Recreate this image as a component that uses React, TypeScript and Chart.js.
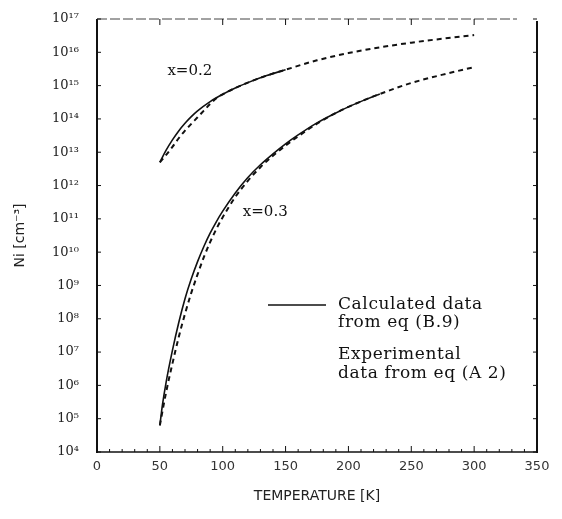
import React, { useEffect, useRef } from "react";
import { Chart, registerables } from "chart.js";

Chart.register(...registerables);

// Temperature (K) and intrinsic carrier concentration Ni (cm^-3)
const upperCalcT = [50, 55, 60, 65, 70, 75, 80, 90, 100, 110, 120, 135, 150];
const upperCalcN = [5.0e12, 1.15e13, 2.34e13, 4.37e13, 7.41e13, 1.17e14, 1.74e14, 3.31e14, 5.5e14, 8.5e14, 1.23e15, 2.0e15, 3.0e15];

const upperExpT = [50, 55, 60, 65, 70, 75, 80, 85, 90, 95, 100, 110, 120, 135, 150, 175, 200, 225, 250, 275, 300];
const upperExpN = [5.0e12, 8.3e12, 1.45e13, 2.63e13, 4.47e13, 7.1e13, 1.12e14, 1.78e14, 2.82e14, 4.17e14, 5.5e14, 8.5e14, 1.23e15, 2.0e15, 3.0e15, 5.75e15, 9.5e15, 1.41e16, 1.95e16, 2.57e16, 3.3e16];

const lowerCalcT = [50, 52, 55, 60, 65, 70, 75, 80, 85, 90, 95, 100, 110, 120, 130, 140, 150, 160, 175, 190, 200, 215, 225];
const lowerCalcN = [6.3e4, 2.5e5, 1.26e6, 1.12e7, 7.6e7, 4.0e8, 1.58e9, 5.2e9, 1.48e10, 3.7e10, 8.3e10, 1.7e11, 6.0e11, 1.74e12, 4.2e12, 8.9e12, 1.78e13, 3.3e13, 7.6e13, 1.51e14, 2.3e14, 4.0e14, 5.6e14];

const lowerExpT = [50, 55, 60, 65, 70, 75, 80, 85, 90, 95, 100, 110, 120, 130, 140, 150, 160, 175, 190, 200, 215, 230, 250, 275, 300];
const lowerExpN = [6.3e4, 6.3e5, 4.5e6, 2.8e7, 1.41e8, 6.0e8, 2.14e9, 7.1e9, 2.0e10, 5.0e10, 1.12e11, 4.5e11, 1.38e12, 3.55e12, 7.9e12, 1.58e13, 3.0e13, 7.2e13, 1.51e14, 2.3e14, 4.0e14, 6.6e14, 1.2e15, 2.14e15, 3.6e15];

const yTickExponents = [4, 5, 6, 7, 8, 9, 10, 11, 12, 13, 14, 15, 16, 17];
const xTickValues = [0, 50, 100, 150, 200, 250, 300, 350];
const topTickValues = [50, 100, 150, 200, 250, 300];

const seriesLabels = ["x=0.2", "x=0.3"];
const legendCalc = ["Calculated data", "from eq (B.9)"];
const legendExp = ["Experimental", "data from eq (A 2)"];

const SUP = "⁰¹²³⁴⁵⁶⁷⁸⁹";
const sup = (n: number) => String(n).split("").map((d) => SUP[+d]).join("");

const pts = (t: number[], n: number[]) => t.map((v, i) => ({ x: v, y: n[i] }));

const framePlugin = {
  id: "frame",
  afterDraw(chart: any) {
    const { ctx, chartArea: a, scales } = chart;
    const xs = scales.x;
    const ys = scales.y;
    const line = (x1: number, y1: number, x2: number, y2: number) => {
      ctx.beginPath();
      ctx.moveTo(x1, y1);
      ctx.lineTo(x2, y2);
      ctx.stroke();
    };
    ctx.save();
    ctx.strokeStyle = "#111";
    ctx.lineWidth = 2;
    line(a.left, a.top, a.left, a.bottom + 1);
    line(a.right, a.top + 2, a.right, a.bottom + 1);
    ctx.lineWidth = 1.5;
    line(a.left, a.bottom, a.right, a.bottom);
    ctx.lineWidth = 1;
    ctx.strokeStyle = "#444";
    ctx.setLineDash([10, 3]);
    line(a.left, a.top, a.right - 20, a.top);
    ctx.setLineDash([]);
    ctx.strokeStyle = "#111";
    for (let v = 0; v <= 350; v += 10) {
      const px = xs.getPixelForValue(v);
      const len = v % 50 === 0 ? 6 : 3;
      line(px, a.bottom, px, a.bottom - len);
    }
    topTickValues.forEach((v) => {
      const px = xs.getPixelForValue(v);
      line(px, a.top, px, a.top + 6);
    });
    yTickExponents.forEach((e) => {
      const py = ys.getPixelForValue(Math.pow(10, e));
      line(a.left, py, a.left + 4, py);
      line(a.right, py, a.right - 4, py);
    });

    // curve labels
    ctx.fillStyle = "#111";
    ctx.font = '15px "DejaVu Serif"';
    ctx.textBaseline = "middle";
    ctx.textAlign = "left";
    ctx.fillText(seriesLabels[0], xs.getPixelForValue(56), ys.getPixelForValue(Math.pow(10, 15.45)));
    ctx.fillText(seriesLabels[1], xs.getPixelForValue(116), ys.getPixelForValue(Math.pow(10, 11.2)));

    // legend
    const lx = a.left + 171;
    const ly = a.top + 286;
    ctx.lineWidth = 1.5;
    line(lx, ly, lx + 58, ly);
    ctx.font = '17px "DejaVu Serif"';
    try {
      (ctx as any).letterSpacing = "0.6px";
    } catch (e) {}
    const tx = lx + 70;
    ctx.fillText(legendCalc[0], tx, ly);
    ctx.fillText(legendCalc[1], tx, ly + 18);
    ctx.fillText(legendExp[0], tx, ly + 50);
    ctx.fillText(legendExp[1], tx, ly + 69);
    ctx.restore();
  },
};

export default function App() {
  const ref = useRef<HTMLCanvasElement | null>(null);
  useEffect(() => {
    if (!ref.current) return;
    const chart = new Chart(ref.current, {
      type: "line",
      data: {
        datasets: [
          {
            label: "calc x=0.2",
            data: pts(upperCalcT, upperCalcN),
            borderColor: "#111",
            borderWidth: 1.6,
            pointRadius: 0,
            cubicInterpolationMode: "monotone",
          },
          {
            label: "exp x=0.2",
            data: pts(upperExpT, upperExpN),
            borderColor: "#111",
            borderWidth: 2,
            borderDash: [5, 4],
            pointRadius: 0,
            cubicInterpolationMode: "monotone",
          },
          {
            label: "calc x=0.3",
            data: pts(lowerCalcT, lowerCalcN),
            borderColor: "#111",
            borderWidth: 1.6,
            pointRadius: 0,
            cubicInterpolationMode: "monotone",
          },
          {
            label: "exp x=0.3",
            data: pts(lowerExpT, lowerExpN),
            borderColor: "#111",
            borderWidth: 2,
            borderDash: [5, 4],
            pointRadius: 0,
            cubicInterpolationMode: "monotone",
          },
        ],
      },
      options: {
        animation: false,
        responsive: false,
        layout: { padding: { left: 0, top: 19, right: 25, bottom: 0 } },
        plugins: { legend: { display: false }, tooltip: { enabled: false } },
        scales: {
          x: {
            type: "linear",
            min: 0,
            max: 350,
            afterFit: (s: any) => {
              s.height = 67;
            },
            afterBuildTicks: (s: any) => {
              s.ticks = xTickValues.map((v) => ({ value: v }));
            },
            grid: { display: false, drawTicks: true, tickLength: 7 },
            border: { display: false },
            ticks: {
              padding: 0,
              color: "#333",
              font: { family: "DejaVu Sans", size: 13 },
              maxRotation: 0,
            },
            title: {
              display: true,
              text: "TEMPERATURE [K]",
              color: "#222",
              font: { family: "DejaVu Sans", size: 14 },
              padding: { top: 0, bottom: 14 },
            },
          },
          y: {
            type: "logarithmic",
            min: 1e4,
            max: 1e17,
            afterFit: (s: any) => {
              s.width = 97;
            },
            afterBuildTicks: (s: any) => {
              s.ticks = yTickExponents.map((e) => ({ value: Math.pow(10, e) }));
            },
            grid: { display: false, drawTicks: true, tickLength: 18 },
            border: { display: false },
            ticks: {
              padding: 0,
              color: "#222",
              font: { family: "DejaVu Serif", size: 13 },
              callback: (v: any) => "10" + sup(Math.round(Math.log10(Number(v)))),
            },
            title: {
              display: true,
              text: "Ni [cm⁻³]",
              color: "#222",
              font: { family: "DejaVu Sans", size: 14 },
              padding: { top: 12, bottom: 0 },
            },
          },
        },
      },
      plugins: [framePlugin],
    } as any);
    return () => chart.destroy();
  }, []);
  return (
    <div style={{ position: "fixed", left: 0, top: 0, width: 562, height: 519, background: "#fff" }}>
      <canvas ref={ref} width={562} height={519} style={{ display: "block" }} />
    </div>
  );
}
